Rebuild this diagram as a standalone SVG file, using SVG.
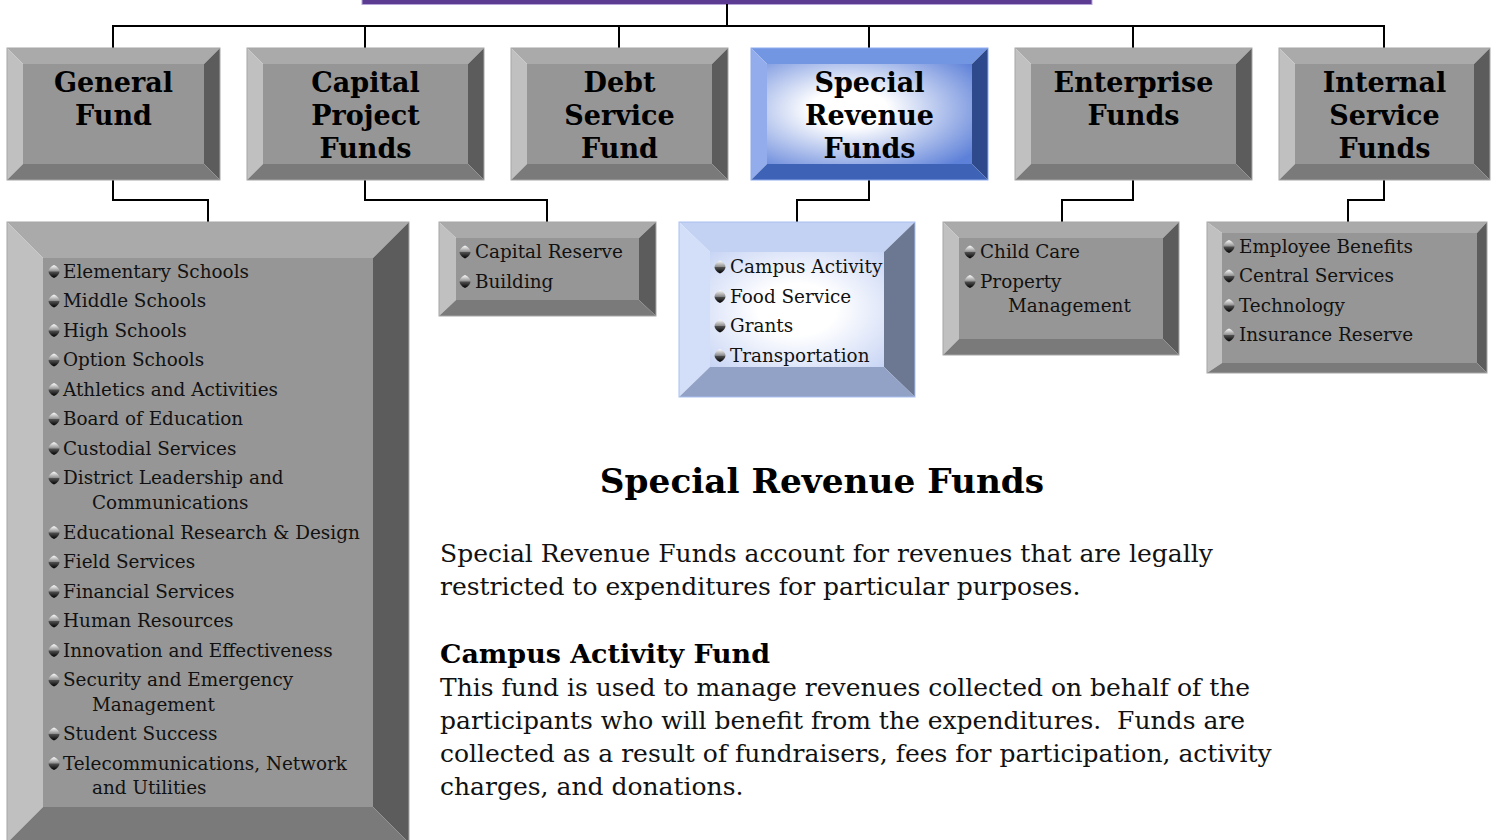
<svg xmlns="http://www.w3.org/2000/svg" width="1494" height="840" viewBox="0 0 1494 840">
<style>
.gt{fill:#aaaaaa}.gl{fill:#c0c0c0}.gr{fill:#5c5c5c}.gb{fill:#7a7a7a}.gf{fill:#969696}
.go{fill:none;stroke:#a6a6a6;stroke-width:1}
.ht{font-family:"DejaVu Serif",serif;font-weight:bold;font-size:27px;text-anchor:middle;fill:#000}
.li{font-family:"DejaVu Serif",serif;font-size:18.4px;fill:#111}
.body{font-family:"DejaVu Serif",serif;font-size:25px;fill:#111}
.conn{fill:none;stroke:#000;stroke-width:2}
</style>
<defs>
<radialGradient id="sg" cx="0.4" cy="0.45" r="0.75">
<stop offset="0.25" stop-color="#ffffff"/><stop offset="1" stop-color="#5d80d8"/>
</radialGradient>
<radialGradient id="sl" cx="0.5" cy="0.5" r="0.75">
<stop offset="0.3" stop-color="#ffffff"/><stop offset="1" stop-color="#c2d0f3"/>
</radialGradient>
<linearGradient id="bt" x1="0" y1="0" x2="0" y2="1">
<stop offset="0" stop-color="#ffffff"/><stop offset="1" stop-color="#8a8a8a"/>
</linearGradient>
<linearGradient id="bb" x1="0" y1="0" x2="0" y2="1">
<stop offset="0" stop-color="#555555"/><stop offset="1" stop-color="#000000"/>
</linearGradient>
<g id="bul">
<path d="M0,-6.5 C3.5,-5 5.5,-2 5.5,0 L-5.5,0 C-5.5,-2 -3.5,-5 0,-6.5 Z" fill="url(#bt)"/>
<path d="M-5.5,0 L5.5,0 C5.5,2 3.5,5 0,6.5 C-3.5,5 -5.5,2 -5.5,0 Z" fill="url(#bb)"/>
</g>
</defs>
<rect width="1494" height="840" fill="#ffffff"/>

<g id="top-bar">
<rect x="362" y="-30" width="730" height="34.5" fill="#5b3c92" stroke="#b7a5da" stroke-width="1"/>
</g>

<g id="connectors">
<path class="conn" d="M727,4 V26 M113,48 V26 H1384 V48 M365,26 V48 M619,26 V48 M869,26 V48 M1133,26 V48"/>
<path class="conn" d="M113,180 V200 H208 V222 M365,180 V200 H547 V222 M869,180 V200 H797 V222 M1133,180 V200 H1062 V222 M1384,180 V200 H1348 V222"/>
</g>

<g id="general-fund">
<polygon class="gt" points="7,48 220,48 204,64 23,64"/>
<polygon class="gl" points="7,48 23,64 23,164 7,180"/>
<polygon class="gr" points="220,48 220,180 204,164 204,64"/>
<polygon class="gb" points="7,180 220,180 204,164 23,164"/>
<rect class="gf" x="23" y="64" width="181" height="100"/>
<rect class="go" x="7" y="48" width="213" height="132"/>
<text class="ht" x="113.5" y="92">General</text>
<text class="ht" x="113.5" y="125">Fund</text>
</g>

<g id="capital-project-funds">
<polygon class="gt" points="247,48 484,48 468,64 263,64"/>
<polygon class="gl" points="247,48 263,64 263,164 247,180"/>
<polygon class="gr" points="484,48 484,180 468,164 468,64"/>
<polygon class="gb" points="247,180 484,180 468,164 263,164"/>
<rect class="gf" x="263" y="64" width="205" height="100"/>
<rect class="go" x="247" y="48" width="237" height="132"/>
<text class="ht" x="365.5" y="92">Capital</text>
<text class="ht" x="365.5" y="125">Project</text>
<text class="ht" x="365.5" y="158">Funds</text>
</g>

<g id="debt-service-fund">
<polygon class="gt" points="511,48 728,48 712,64 527,64"/>
<polygon class="gl" points="511,48 527,64 527,164 511,180"/>
<polygon class="gr" points="728,48 728,180 712,164 712,64"/>
<polygon class="gb" points="511,180 728,180 712,164 527,164"/>
<rect class="gf" x="527" y="64" width="185" height="100"/>
<rect class="go" x="511" y="48" width="217" height="132"/>
<text class="ht" x="619.5" y="92">Debt</text>
<text class="ht" x="619.5" y="125">Service</text>
<text class="ht" x="619.5" y="158">Fund</text>
</g>

<g id="special-revenue-funds">
<polygon fill="#7396e2" points="751,48 988,48 972,64 767,64"/>
<polygon fill="#93acec" points="751,48 767,64 767,164 751,180"/>
<polygon fill="#2f4a8c" points="988,48 988,180 972,164 972,64"/>
<polygon fill="#3e62b6" points="751,180 988,180 972,164 767,164"/>
<rect fill="url(#sg)" x="767" y="64" width="205" height="100"/>
<rect fill="none" stroke="#8eaaee" stroke-width="1" x="751" y="48" width="237" height="132"/>
<text class="ht" x="869.5" y="92">Special</text>
<text class="ht" x="869.5" y="125">Revenue</text>
<text class="ht" x="869.5" y="158">Funds</text>
</g>

<g id="enterprise-funds">
<polygon class="gt" points="1015,48 1252,48 1236,64 1031,64"/>
<polygon class="gl" points="1015,48 1031,64 1031,164 1015,180"/>
<polygon class="gr" points="1252,48 1252,180 1236,164 1236,64"/>
<polygon class="gb" points="1015,180 1252,180 1236,164 1031,164"/>
<rect class="gf" x="1031" y="64" width="205" height="100"/>
<rect class="go" x="1015" y="48" width="237" height="132"/>
<text class="ht" x="1133.5" y="92">Enterprise</text>
<text class="ht" x="1133.5" y="125">Funds</text>
</g>

<g id="internal-service-funds">
<polygon class="gt" points="1279,48 1490,48 1474,64 1295,64"/>
<polygon class="gl" points="1279,48 1295,64 1295,164 1279,180"/>
<polygon class="gr" points="1490,48 1490,180 1474,164 1474,64"/>
<polygon class="gb" points="1279,180 1490,180 1474,164 1295,164"/>
<rect class="gf" x="1295" y="64" width="179" height="100"/>
<rect class="go" x="1279" y="48" width="211" height="132"/>
<text class="ht" x="1384.5" y="92">Internal</text>
<text class="ht" x="1384.5" y="125">Service</text>
<text class="ht" x="1384.5" y="158">Funds</text>
</g>

<g id="general-fund-list">
<polygon class="gt" points="7,222 409,222 373,258 43,258"/>
<polygon class="gl" points="7,222 43,258 43,807 7,843"/>
<polygon class="gr" points="409,222 409,843 373,807 373,258"/>
<polygon class="gb" points="7,843 409,843 373,807 43,807"/>
<rect class="gf" x="43" y="258" width="330" height="549"/>
<rect class="go" x="7" y="222" width="402" height="621"/>
<use href="#bul" x="54" y="271.5"/><text class="li" x="63" y="277.5">Elementary Schools</text>
<use href="#bul" x="54" y="301"/><text class="li" x="63" y="307">Middle Schools</text>
<use href="#bul" x="54" y="330.5"/><text class="li" x="63" y="336.5">High Schools</text>
<use href="#bul" x="54" y="360"/><text class="li" x="63" y="366">Option Schools</text>
<use href="#bul" x="54" y="389.5"/><text class="li" x="63" y="395.5">Athletics and Activities</text>
<use href="#bul" x="54" y="419"/><text class="li" x="63" y="425">Board of Education</text>
<use href="#bul" x="54" y="448.5"/><text class="li" x="63" y="454.5">Custodial Services</text>
<use href="#bul" x="54" y="478"/><text class="li" x="63" y="484">District Leadership and</text>
<text class="li" x="92" y="509">Communications</text>
<use href="#bul" x="54" y="532.5"/><text class="li" x="63" y="538.5">Educational Research &amp; Design</text>
<use href="#bul" x="54" y="562"/><text class="li" x="63" y="568">Field Services</text>
<use href="#bul" x="54" y="591.5"/><text class="li" x="63" y="597.5">Financial Services</text>
<use href="#bul" x="54" y="621"/><text class="li" x="63" y="627">Human Resources</text>
<use href="#bul" x="54" y="650.5"/><text class="li" x="63" y="656.5">Innovation and Effectiveness</text>
<use href="#bul" x="54" y="680"/><text class="li" x="63" y="686">Security and Emergency</text>
<text class="li" x="92" y="710.5">Management</text>
<use href="#bul" x="54" y="734"/><text class="li" x="63" y="740">Student Success</text>
<use href="#bul" x="54" y="763.5"/><text class="li" x="63" y="769.5">Telecommunications, Network</text>
<text class="li" x="92" y="794">and Utilities</text>
</g>

<g id="capital-project-list">
<polygon class="gt" points="439,222 656,222 639,238 456,238"/>
<polygon class="gl" points="439,222 456,238 456,300 439,316"/>
<polygon class="gr" points="656,222 656,316 639,300 639,238"/>
<polygon class="gb" points="439,316 656,316 639,300 456,300"/>
<rect class="gf" x="456" y="238" width="183" height="62"/>
<rect class="go" x="439" y="222" width="217" height="94"/>
<use href="#bul" x="465" y="252"/><text class="li" x="475" y="258">Capital Reserve</text>
<use href="#bul" x="465" y="281.5"/><text class="li" x="475" y="287.5">Building</text>
</g>

<g id="special-revenue-list">
<polygon fill="#c3d1f3" points="679,222 915,222 884,252 710,252"/>
<polygon fill="#d3def8" points="679,222 710,252 710,367 679,397"/>
<polygon fill="#6c7792" points="915,222 915,397 884,367 884,252"/>
<polygon fill="#92a1c6" points="679,397 915,397 884,367 710,367"/>
<rect fill="url(#sl)" x="710" y="252" width="174" height="115"/>
<rect fill="none" stroke="#a9bff1" stroke-width="1" x="679" y="222" width="236" height="175"/>
<use href="#bul" x="720" y="267"/><text class="li" x="730" y="273">Campus Activity</text>
<use href="#bul" x="720" y="296.5"/><text class="li" x="730" y="302.5">Food Service</text>
<use href="#bul" x="720" y="326"/><text class="li" x="730" y="332">Grants</text>
<use href="#bul" x="720" y="355.5"/><text class="li" x="730" y="361.5">Transportation</text>
</g>

<g id="enterprise-list">
<polygon class="gt" points="943,222 1179,222 1163,238 959,238"/>
<polygon class="gl" points="943,222 959,238 959,339 943,355"/>
<polygon class="gr" points="1179,222 1179,355 1163,339 1163,238"/>
<polygon class="gb" points="943,355 1179,355 1163,339 959,339"/>
<rect class="gf" x="959" y="238" width="204" height="101"/>
<rect class="go" x="943" y="222" width="236" height="133"/>
<use href="#bul" x="970" y="252"/><text class="li" x="980" y="258">Child Care</text>
<use href="#bul" x="970" y="281.5"/><text class="li" x="980" y="287.5">Property</text>
<text class="li" x="1008" y="312">Management</text>
</g>

<g id="internal-service-list">
<polygon class="gt" points="1207,222 1487,222 1477,233 1222,233"/>
<polygon class="gl" points="1207,222 1222,233 1222,363 1207,373"/>
<polygon class="gr" points="1487,222 1487,373 1477,363 1477,233"/>
<polygon class="gb" points="1207,373 1487,373 1477,363 1222,363"/>
<rect class="gf" x="1222" y="233" width="255" height="130"/>
<rect class="go" x="1207" y="222" width="280" height="151"/>
<use href="#bul" x="1229" y="246.5"/><text class="li" x="1239" y="252.5">Employee Benefits</text>
<use href="#bul" x="1229" y="276"/><text class="li" x="1239" y="282">Central Services</text>
<use href="#bul" x="1229" y="305.5"/><text class="li" x="1239" y="311.5">Technology</text>
<use href="#bul" x="1229" y="335"/><text class="li" x="1239" y="341">Insurance Reserve</text>
</g>

<g id="description">
<text x="822" y="493" font-family="DejaVu Serif, serif" font-weight="bold" font-size="34.3" text-anchor="middle" fill="#000">Special Revenue Funds</text>
<text class="body" x="440" y="562">Special Revenue Funds account for revenues that are legally</text>
<text class="body" x="440" y="595">restricted to expenditures for particular purposes.</text>
<text x="440" y="663" font-family="DejaVu Serif, serif" font-weight="bold" font-size="26" textLength="330" lengthAdjust="spacingAndGlyphs" fill="#000">Campus Activity Fund</text>
<text class="body" x="440" y="696">This fund is used to manage revenues collected on behalf of the</text>
<text class="body" x="440" y="729" xml:space="preserve">participants who will benefit from the expenditures.  Funds are</text>
<text class="body" x="440" y="762">collected as a result of fundraisers, fees for participation, activity</text>
<text class="body" x="440" y="795">charges, and donations.</text>
</g>
</svg>
